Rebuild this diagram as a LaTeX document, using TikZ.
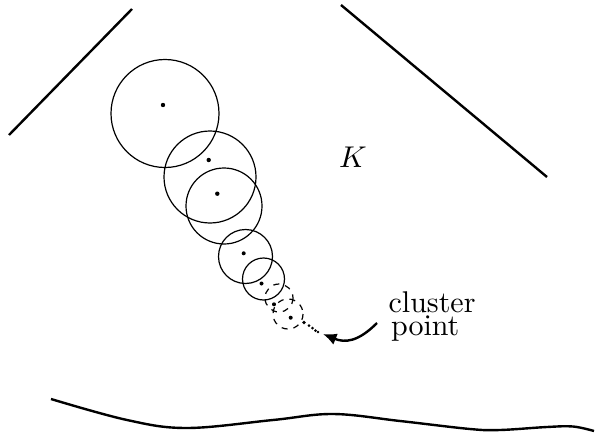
\documentclass[tikz,border=0pt]{standalone}
\usetikzlibrary{arrows.meta}
\begin{document}
\begin{tikzpicture}[x=0.33333pt,y=-0.33333pt,
  ball/.style={line width=0.4pt},
  dball/.style={line width=0.4pt,dash pattern=on 2pt off 2pt},
  edge/.style={line width=0.8pt},
  ctr/.style={fill=black}]
\useasboundingbox (0,0) rectangle (595,437);
% boundary pieces
\draw[edge] (9,135) -- (132,9);
\draw[edge] (341,5) -- (547,177);
\draw[edge] plot[smooth,tension=0.6] coordinates {(51,399) (127,420) (187,428) (273,420) (333,414) (400,421) (470,429) (500,430) (547,427) (573,426.5) (594,431)};
% balls
\draw[ball] (165,113.5) circle (54);
\draw[ball] (210,177) circle (46);
\draw[ball] (224,206) circle (38);
\draw[ball] (245.5,256.5) circle (27);
\draw[ball] (263.5,279) circle (21);
\draw[dball] (279,298) circle (14);
\draw[dball] (288,314) circle (15);
% centres
\fill[ctr] (163,105) circle (2.2);
\fill[ctr] (208.7,160) circle (2.2);
\fill[ctr] (217.3,193.7) circle (2.2);
\fill[ctr] (243.7,253.3) circle (2);
\fill[ctr] (261.5,283.5) circle (2);
\fill[ctr] (274,304.3) circle (2);
\fill[ctr] (290.7,317.7) circle (2);
\fill[ctr] (304,322.5) circle (1.8);
\fill[ctr] (309,325.5) circle (1.5);
\fill[ctr] (312.5,328) circle (1.5);
\fill[ctr] (315.5,330.5) circle (1.5);
\fill[ctr] (318,332) circle (1.3);
% labels
\node[inner sep=0pt] (K) at (353,157) {$K$};
\node[inner sep=0pt,anchor=north west,align=left] (cp) at (388,291) {cluster\\[-4.2pt]\hspace{0.8pt}point};
\coordinate (tail) at (377,323);
\coordinate (tip) at (323,334);
\draw[line width=0.8pt,-{Latex[length=4.5pt,width=4pt]}] (tail) .. controls (358,342) and (345,343) .. (tip);
\end{tikzpicture}
\end{document}
